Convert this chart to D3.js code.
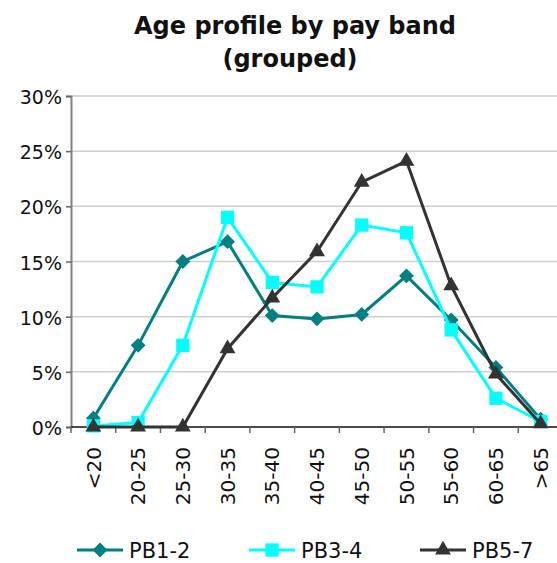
<!DOCTYPE html>
<html>
<head>
<meta charset="utf-8">
<script src="https://cdn.jsdelivr.net/npm/d3@7"></script>
<style>
  body { margin: 0; background: #fff; }
  svg text { font-family: "DejaVu Sans", sans-serif; fill: #111; }
</style>
</head>
<body>
<svg width="557" height="563"></svg>
<script>
// age bands along the bottom
var categories = ["<20", "20-25", "25-30", "30-35", "35-40", "40-45", "45-50", "50-55", "55-60", "60-65", ">65"];
// percentage of staff in each band
var pb12 = [0.8, 7.4, 15.0, 16.8, 10.1, 9.8, 10.2, 13.7, 9.7, 5.4, 0.7];
var pb34 = [0.1, 0.4, 7.4, 19.0, 13.1, 12.7, 18.3, 17.6, 8.8, 2.6, 0.5];
var pb57 = [0.0, 0.0, 0.0, 7.1, 11.7, 15.9, 22.2, 24.1, 12.8, 4.8, 0.3];
var seriesNames = ["PB1-2", "PB3-4", "PB5-7"];
var yTicks = [0, 5, 10, 15, 20, 25, 30];

var svg = d3.select("svg");
var plotLeft = 71, plotRight = 563, plotTop = 96, plotBottom = 427;

var x = d3.scaleBand().domain(categories).range([plotLeft, plotRight]);
var y = d3.scaleLinear().domain([0, 30]).range([plotBottom, plotTop]);

// title
svg.append("text").attr("x", 295).attr("y", 34).attr("text-anchor", "middle")
  .style("font-size", "24px").style("font-weight", "bold").text("Age profile by pay band");
svg.append("text").attr("x", 290).attr("y", 67).attr("text-anchor", "middle")
  .style("font-size", "24px").style("font-weight", "bold").text("(grouped)");

// gridlines
svg.append("g").selectAll("line").data(yTicks.slice(1)).enter().append("line")
  .attr("x1", plotLeft).attr("x2", 557)
  .attr("y1", function(d){ return y(d); }).attr("y2", function(d){ return y(d); })
  .attr("stroke", "#cfcfcf").attr("stroke-width", 1.5);

// y axis
var yAxis = svg.append("g").attr("transform", "translate(" + plotLeft + ",0)")
  .call(d3.axisLeft(y).tickValues(yTicks).tickSize(5).tickPadding(4)
    .tickFormat(function(d){ return d + "%"; }));
yAxis.select(".domain").attr("stroke", "#808080").attr("stroke-width", 2);
yAxis.selectAll(".tick line").attr("stroke", "#666").attr("stroke-width", 1.5);
yAxis.selectAll("text").style("font-size", "19px").attr("fill", "#111").attr("dy", "0.4em");

// x axis
var xAxis = svg.append("g").attr("transform", "translate(0," + plotBottom + ")")
  .call(d3.axisBottom(x).tickSize(0).tickSizeOuter(0));
xAxis.select(".domain").attr("stroke", "#111").attr("stroke-width", 1.5)
  .attr("d", "M" + plotLeft + ",0H" + plotRight);
xAxis.selectAll(".tick text")
  .style("font-size", "20px").attr("fill", "#111")
  .attr("text-anchor", "end")
  .attr("transform", "rotate(-90)")
  .attr("x", -20).attr("y", 0).attr("dy", "0.36em");
// tick marks between the bands
svg.append("g").selectAll("line").data(categories).enter().append("line")
  .attr("x1", function(d){ return x(d); }).attr("x2", function(d){ return x(d); })
  .attr("y1", plotBottom).attr("y2", plotBottom + 6)
  .attr("stroke", "#666").attr("stroke-width", 1.5);

var cx = function(i){ return x(categories[i]) + x.bandwidth() / 2; };
var line = d3.line().x(function(d, i){ return cx(i); }).y(function(d){ return y(d); });

var series = [
  { name: seriesNames[0], values: pb12, color: "#008080", symbol: d3.symbolDiamond2, size: 140 },
  { name: seriesNames[1], values: pb34, color: "#00FFFF", symbol: d3.symbolSquare2, size: 225 },
  { name: seriesNames[2], values: pb57, color: "#333333", symbol: d3.symbolTriangle2, size: 180 }
];

series.forEach(function(s){
  svg.append("path").datum(s.values).attr("d", line)
    .attr("fill", "none").attr("stroke", s.color).attr("stroke-width", 3);
  svg.append("g").selectAll("path").data(s.values).enter().append("path")
    .attr("d", d3.symbol().type(s.symbol).size(s.size))
    .attr("transform", function(d, i){ return "translate(" + cx(i) + "," + y(d) + ")"; })
    .attr("fill", s.color).attr("stroke", "none");
});

// legend
var legendX = [77, 249, 420];
series.forEach(function(s, i){
  var g = svg.append("g").attr("transform", "translate(" + legendX[i] + ",550)");
  g.append("line").attr("x1", 0).attr("x2", 46).attr("stroke", s.color).attr("stroke-width", 3);
  g.append("path").attr("d", d3.symbol().type(s.symbol).size(s.size))
    .attr("transform", "translate(23,0)").attr("fill", s.color);
  g.append("text").attr("x", 52).attr("y", 0).attr("dy", "0.36em")
    .style("font-size", "21px").text(s.name);
});
</script>
</body>
</html>
